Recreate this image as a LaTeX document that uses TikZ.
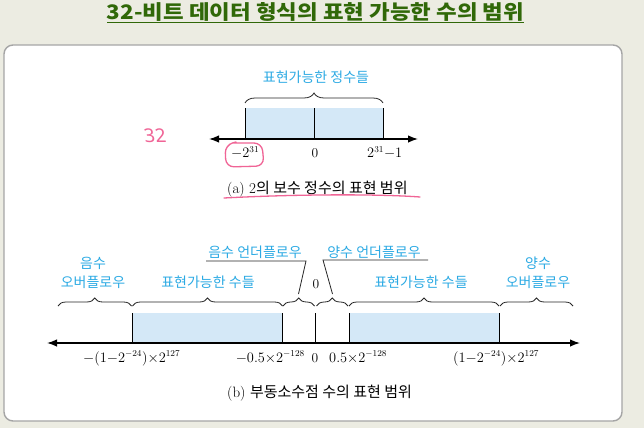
\documentclass[tikz,border=0pt]{standalone}
\usepackage{fontspec}
\usepackage{graphicx}
\newfontfamily\kr{Noto Sans CJK KR}
\newfontfamily\krs{Noto Sans}
\usetikzlibrary{arrows.meta,decorations.pathreplacing}
\definecolor{bgcol}{RGB}{236,236,226}
\definecolor{titlecol}{RGB}{48,104,8}
\definecolor{blue1}{RGB}{44,170,228}
\definecolor{barfill}{RGB}{212,232,247}
\definecolor{pinkpen}{RGB}{240,100,150}
\definecolor{panelline}{RGB}{165,165,165}
\begin{document}
\begin{tikzpicture}[x=1pt,y=-1pt,
  lbl/.style={font=\fontsize{14}{19}\selectfont\kr, text=blue1, inner sep=0pt, align=center},
  num/.style={font=\fontsize{13.5}{16}\selectfont, inner sep=0pt, anchor=base},
  captext/.style={font=\fontsize{15}{17}\selectfont, inner sep=0pt, anchor=base west},
  axisline/.style={line width=1.4pt, {Latex[length=10pt,width=7.5pt]}-{Latex[length=10pt,width=7.5pt]}},
  brc/.style={decorate, decoration={brace, amplitude=#1}, line width=0.8pt, draw=black!85},
  brc/.default=8pt,
  tickline/.style={line width=0.9pt},
  bar/.style={fill=barfill},
  leader/.style={line width=0.8pt, draw=black!85},
  pen/.style={draw=pinkpen, line width=1.3pt, line cap=round, line join=round}
]
\useasboundingbox (0,0) rectangle (644,428);
\fill[bgcol] (0,0) rectangle (644,428);
% panel
\draw[panelline, line width=1.4pt, fill=white, rounded corners=9pt] (4,45) rectangle (622,421);

% title
\node[inner sep=0pt, anchor=base, text=titlecol] (title) at (315.5,20)
  {\resizebox{417pt}{17pt}{\kr\bfseries 32-비트 데이터 형식의 표현 가능한 수의 범위}};
\draw[titlecol, line width=1.3pt] (107,22.8) -- (524,22.8);

% ---------------- (a) ----------------
\fill[bar] (245,108) rectangle (383,139);
\coordinate (aL) at (209,139);
\coordinate (aR) at (418,139);
\coordinate (a1t) at (245,108); \coordinate (a1b) at (245,139);
\coordinate (a2t) at (314,108); \coordinate (a2b) at (314,139);
\coordinate (a3t) at (383,108); \coordinate (a3b) at (383,139);
\draw[tickline] (a1t) -- (a1b);
\draw[tickline] (a2t) -- (a2b);
\draw[tickline] (a3t) -- (a3b);
\draw[axisline] (aL) -- (aR);
\coordinate (abl) at (245,103); \coordinate (abr) at (383,103);
\draw[brc=10pt] (abl) -- (abr);
\node[lbl] (alab) at (316,77) {표현가능한 정수들};
\node[num, anchor=base west] (amin) at (231,157.5) {$-2^{31}$};
\node[num] (azero) at (315,157.5) {0};
\node[num, anchor=base west] (amax) at (367,157.5) {$2^{31}{-}1$};
\node[captext] (acap) at (227,193) {(a) 2{\kr 의 보수 정수의 표현 범위}};

% pink annotations
\node[text=pinkpen, inner sep=0pt, font=\fontsize{19}{20}\selectfont\krs, xslant=-0.15] (p32) at (155,136) {32};
\draw[pen, rounded corners=8pt] (232,143) -- (262,143) -- (264,166) -- (226,167) -- (225,145) -- (236,142);
\draw[pen] (224,198) .. controls (300,194) and (380,194) .. (420,197);

% ---------------- (b) ----------------
\fill[bar] (132,313) rectangle (282,343);
\fill[bar] (349,313) rectangle (499,343);
\coordinate (bL) at (47,343);
\coordinate (bR) at (580,343);
\coordinate (b1t) at (132,313); \coordinate (b1b) at (132,343);
\coordinate (b2t) at (282,313); \coordinate (b2b) at (282,343);
\coordinate (b3t) at (315,313); \coordinate (b3b) at (315,343);
\coordinate (b4t) at (349,313); \coordinate (b4b) at (349,343);
\coordinate (b5t) at (499,313); \coordinate (b5b) at (499,343);
\draw[tickline] (b1t) -- (b1b);
\draw[tickline] (b2t) -- (b2b);
\draw[tickline] (b3t) -- (b3b);
\draw[tickline] (b4t) -- (b4b);
\draw[tickline] (b5t) -- (b5b);
\draw[axisline] (bL) -- (bR);

% braces
\coordinate (c0) at (58,306);
\coordinate (c1) at (131.5,306);
\coordinate (c2) at (282.5,306);
\coordinate (c3) at (314.5,306);
\coordinate (c4) at (316.5,306);
\coordinate (c5) at (348.5,306);
\coordinate (c6) at (499.5,306);
\coordinate (c7) at (573,306);
\draw[brc] (c0) -- (c1);
\draw[brc] ([xshift=1pt]c1) -- (c2);
\draw[brc] ([xshift=0.5pt]c2) -- (c3);
\draw[brc] (c4) -- ([xshift=-0.5pt]c5);
\draw[brc] ([xshift=0.5pt]c5) -- ([xshift=-0.5pt]c6);
\draw[brc] ([xshift=0.5pt]c6) -- (c7);

% labels above
\node[lbl] (negov) at (93,272.5) {음수\\오버플로우};
\node[lbl] (rep1) at (208,282) {표현가능한 수들};
\node[lbl] (negun) at (255,252) {음수 언더플로우};
\node[lbl] (posun) at (374,252) {양수 언더플로우};
\node[lbl] (rep2) at (421,282) {표현가능한 수들};
\node[lbl] (posov) at (538,272.5) {양수\\오버플로우};
\node[num] (bzeroT) at (316,288) {0};

% leader lines
\coordinate (nl1) at (206,261); \coordinate (nl2) at (306,261); \coordinate (nl3) at (298.5,294);
\draw[leader] (nl1) -- (nl2) -- (nl3);
\coordinate (pl1) at (428,260); \coordinate (pl2) at (323,260); \coordinate (pl3) at (332.5,294);
\draw[leader] (pl1) -- (pl2) -- (pl3);

% labels below
\node[num, anchor=base west] (bnmax) at (83,362) {$-(1{-}2^{-24}){\times}2^{127}$};
\node[num, anchor=base east] (bnmin) at (305,362) {$-0.5{\times}2^{-128}$};
\node[num] (bzero) at (315,362) {0};
\node[num, anchor=base west] (bpmin) at (329,362) {$0.5{\times}2^{-128}$};
\node[num, anchor=base west] (bpmax) at (453,362) {$(1{-}2^{-24}){\times}2^{127}$};
\node[captext] (bcap) at (227,397) {(b) {\kr 부동소수점 수의 표현 범위}};
\end{tikzpicture}
\end{document}
